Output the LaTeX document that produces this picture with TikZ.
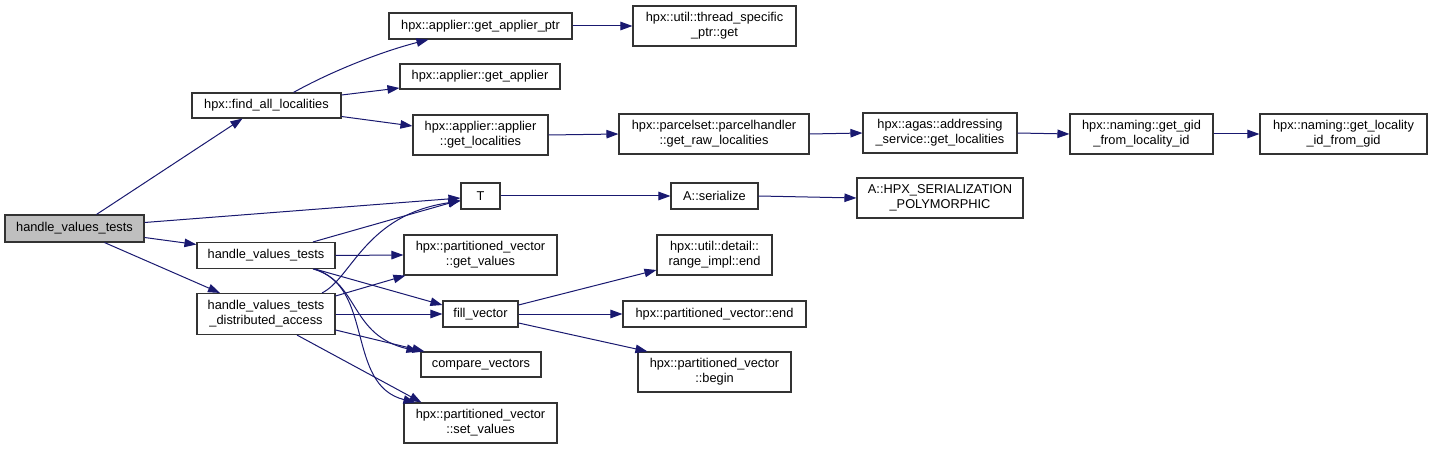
\documentclass[tikz,border=0pt]{standalone}
\usepackage{fontspec}
\setmainfont{Liberation Sans}
\usetikzlibrary{arrows.meta,calc}
\definecolor{edgeblue}{HTML}{191970}
\definecolor{boxline}{HTML}{333333}
\definecolor{mainfill}{HTML}{BFBFBF}
\begin{document}
\begin{tikzpicture}[x=1pt,y=-1pt,
  box/.style={draw=boxline,line width=1.1pt,fill=white,inner sep=0pt,align=center,
    font=\fontsize{12.8}{15}\selectfont},
  edge/.style={draw=edgeblue,line width=1pt,-{Triangle[length=12pt,width=8.5pt]}}]
\fill[white] (0,0) rectangle (1433,449);
\useasboundingbox (0,0) rectangle (1433,449);
% nodes
\node[box,fill=mainfill,minimum width=139pt,minimum height=27pt] (main) at (74.5,228.5) {handle\_values\_tests};
\node[box,minimum width=149pt,minimum height=25pt] (fal) at (266.5,105.5) {hpx::find\_all\_localities};
\node[box,minimum width=183pt,minimum height=26pt] (gap) at (480.5,26) {hpx::applier::get\_applier\_ptr};
\node[box,minimum width=163pt,minimum height=40pt] (tsp) at (714.5,26) {hpx::util::thread\_specific\\\_ptr::get};
\node[box,minimum width=160pt,minimum height=25pt] (ga) at (480,76.5) {hpx::applier::get\_applier};
\node[box,minimum width=135pt,minimum height=40pt] (agl) at (480.5,135) {hpx::applier::applier\\::get\_localities};
\node[box,minimum width=190pt,minimum height=40pt] (prl) at (714,134) {hpx::parcelset::parcelhandler\\::get\_raw\_localities};
\node[box,minimum width=154pt,minimum height=40pt] (asg) at (940,133) {hpx::agas::addressing\\\_service::get\_localities};
\node[box,minimum width=143pt,minimum height=40pt] (gid) at (1141.5,134) {hpx::naming::get\_gid\\\_from\_locality\_id};
\node[box,minimum width=167pt,minimum height=40pt] (lid) at (1343.5,134) {hpx::naming::get\_locality\\\_id\_from\_gid};
\node[box,minimum width=39pt,minimum height=26pt] (T) at (480.5,196) {T};
\node[box,minimum width=87pt,minimum height=26pt] (ser) at (714.5,196) {A::serialize};
\node[box,minimum width=166pt,minimum height=40pt] (hsp) at (940,198) {A::HPX\_SERIALIZATION\\\_POLYMORPHIC};
\node[box,minimum width=138pt,minimum height=26pt] (hvt) at (266,255.5) {handle\_values\_tests};
\node[box,minimum width=138pt,minimum height=41pt] (hvd) at (266,314) {handle\_values\_tests\\\_distributed\_access};
\node[box,minimum width=153pt,minimum height=40pt] (gv) at (480.5,255) {hpx::partitioned\_vector\\::get\_values};
\node[box,minimum width=75pt,minimum height=26pt] (fv) at (480.5,314) {fill\_vector};
\node[box,minimum width=120pt,minimum height=25pt] (cv) at (481,364.5) {compare\_vectors};
\node[box,minimum width=153pt,minimum height=40pt] (sv) at (480.5,423) {hpx::partitioned\_vector\\::set\_values};
\node[box,minimum width=115pt,minimum height=40pt] (rie) at (714.5,255) {hpx::util::detail::\\range\_impl::end};
\node[box,minimum width=183pt,minimum height=26pt] (pve) at (714.5,314) {hpx::partitioned\_vector::end};
\node[box,minimum width=153pt,minimum height=40pt] (pvb) at (714.5,372) {hpx::partitioned\_vector\\::begin};
% edges
\draw[edge] ($(main.north)+(22,0)$) -- ($(fal.south)+(-24,0)$);
\draw[edge] ($(main.east)+(0,-6)$) -- ($(T.west)+(0,2)$);
\draw[edge] ($(main.east)+(0,9)$) -- ($(hvt.west)+(0,-11)$);
\draw[edge] ($(main.south)+(30,0)$) -- ($(hvd.north)+(-46,0)$);
\draw[edge] ($(fal.north)+(27,0)$) .. controls (330,72) and (380,52) .. ($(gap.south)+(-52,0)$);
\draw[edge] ($(fal.east)+(0,-10.5)$) -- ($(ga.west)+(0,11.5)$);
\draw[edge] ($(fal.east)+(0,11)$) -- ($(agl.west)+(0,-9)$);
\draw[edge] (gap.east) -- (tsp.west);
\draw[edge] (agl.east) -- (prl.west);
\draw[edge] (prl.east) -- (asg.west);
\draw[edge] (asg.east) -- (gid.west);
\draw[edge] (gid.east) -- (lid.west);
\draw[edge] (T.east) -- (ser.west);
\draw[edge] (ser.east) -- (hsp.west);
\draw[edge] ($(hvt.north)+(47,0)$) -- ($(T.west)+(0,4)$);
\draw[edge] (hvt.east) -- (gv.west);
\draw[edge] ($(hvt.south)+(49,0)$) -- ($(fv.west)+(0,-9)$);
\draw[edge] ($(hvt.south)+(49,0)$) .. controls (360,285) and (350,335) .. ($(cv.north west)+(-2,0)$);
\draw[edge] ($(hvt.south)+(47,0)$) .. controls (375,285) and (345,385) .. ($(sv.north west)+(12,0)$);
\draw[edge] ($(hvd.north)+(56,0)$) .. controls (352,278) and (365,215) .. ($(T.west)+(0,5)$);
\draw[edge] ($(hvd.east)+(0,-18)$) -- ($(gv.south west)+(2,0)$);
\draw[edge] (hvd.east) -- (fv.west);
\draw[edge] ($(hvd.east)+(0,16)$) -- ($(cv.north west)+(4,0)$);
\draw[edge] ($(hvd.south)+(31,0)$) -- ($(sv.north west)+(18,0)$);
\draw[edge] ($(fv.east)+(0,-9)$) -- ($(rie.west)+(0,15)$);
\draw[edge] (fv.east) -- (pve.west);
\draw[edge] ($(fv.east)+(0,9)$) -- ($(pvb.north west)+(10,0)$);
\end{tikzpicture}
\end{document}
